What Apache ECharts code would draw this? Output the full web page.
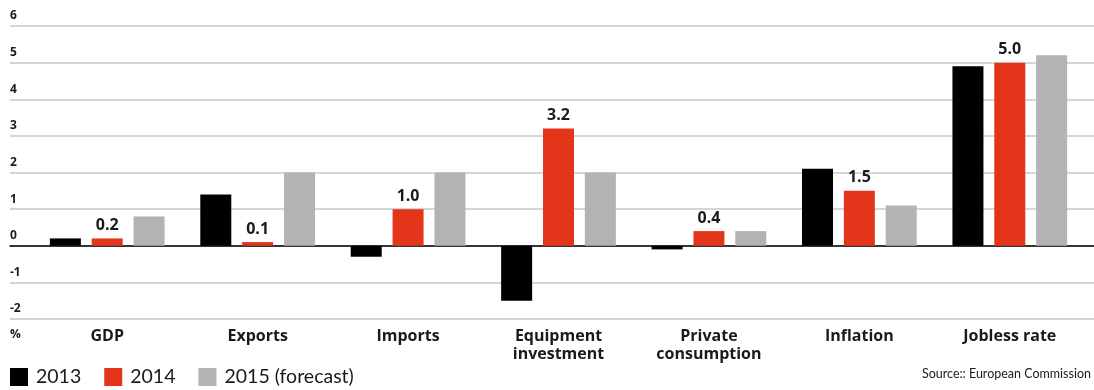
<!DOCTYPE html>
<html>
<head>
<meta charset="utf-8">
<script src="https://cdn.jsdelivr.net/npm/echarts@6/dist/echarts.min.js"></script>
<style>
  html, body { margin: 0; padding: 0; background: #fff; }
  #chart { width: 1094px; height: 390px; }
</style>
</head>
<body>
<div id="chart"></div>
<script>
// Economic indicators, annual % change
const categories = ['GDP', 'Exports', 'Imports', 'Equipment\ninvestment', 'Private\nconsumption', 'Inflation', 'Jobless rate'];
const seriesNames = ['2013', '2014', '2015 (forecast)'];
const values2013 = [0.2, 1.4, -0.3, -1.5, -0.1, 2.1, 4.9];
const values2014 = [0.2, 0.1, 1.0, 3.2, 0.4, 1.5, 5.0];
const values2015 = [0.8, 2.0, 2.0, 2.0, 0.4, 1.1, 5.2];
const yTicks = { min: -2, max: 6, interval: 1 };

const FONT = 'Lato, "Open Sans", sans-serif';
const BOLD_FONT = '"Open Sans", Lato, sans-serif';
const colors = ['#000000', '#e3351a', '#b3b3b4'];

const chart = echarts.init(document.getElementById('chart'), null, { renderer: 'canvas' });

const barBase = {
  type: 'bar',
  xAxisIndex: 1,
  yAxisIndex: 1,
  barWidth: 31,
  barGap: '35%'
};

chart.setOption({
  animation: false,
  textStyle: { fontFamily: FONT },
  grid: [
    { left: 10, right: 0, top: 26, bottom: 71 },
    { left: 32, right: 9, top: 26, bottom: 71 }
  ],
  xAxis: [
    {
      gridIndex: 0, type: 'value', min: 0, max: 1,
      axisLine: { show: true, onZero: true, lineStyle: { color: '#000', width: 1.5 } },
      axisTick: { show: false }, axisLabel: { show: false }, splitLine: { show: false }
    },
    {
      gridIndex: 1, type: 'category', data: categories,
      axisLine: { show: false }, axisTick: { show: false },
      axisLabel: {
        margin: 8, fontFamily: BOLD_FONT, fontWeight: 'bold', fontSize: 16,
        color: '#1a1a1a', lineHeight: 18, interval: 0
      }
    }
  ],
  yAxis: [
    {
      gridIndex: 0, type: 'value', min: yTicks.min, max: yTicks.max, interval: yTicks.interval,
      axisLine: { show: false }, axisTick: { show: false },
      axisLabel: {
        inside: true, margin: 0, align: 'left', verticalAlign: 'bottom',
        padding: [0, 0, 4, 0], fontFamily: BOLD_FONT, fontWeight: 'bold', fontSize: 12, color: '#1a1a1a'
      },
      splitLine: { show: true, lineStyle: { color: '#d6d6d6', width: 2 } }
    },
    {
      gridIndex: 1, type: 'value', min: yTicks.min, max: yTicks.max, interval: yTicks.interval,
      show: false, splitLine: { show: false }
    }
  ],
  legend: {
    left: 5, top: 362,
    icon: 'rect', itemWidth: 18, itemHeight: 18, itemGap: 23,
    textStyle: { fontFamily: FONT, fontSize: 19.5, color: '#1a1a1a', padding: [0, 0, 0, 3] },
    data: seriesNames
  },
  series: [
    Object.assign({}, barBase, { name: seriesNames[0], data: values2013, itemStyle: { color: colors[0] } }),
    Object.assign({}, barBase, {
      name: seriesNames[1], data: values2014, itemStyle: { color: colors[1] },
      label: {
        show: true, position: 'top', distance: 5,
        formatter: p => p.value.toFixed(1),
        fontFamily: BOLD_FONT, fontWeight: 'bold', fontSize: 16, color: '#1a1a1a'
      }
    }),
    Object.assign({}, barBase, { name: seriesNames[2], data: values2015, itemStyle: { color: colors[2] } })
  ],
  graphic: [
    {
      type: 'text', left: 10, top: 329,
      style: { text: '%', font: 'bold 12px ' + BOLD_FONT, fill: '#1a1a1a' }
    },
    {
      type: 'text', right: 3, top: 367,
      style: { text: 'Source:: European Commission', font: '12.5px ' + FONT, fill: '#1a1a1a' }
    }
  ]
});
</script>
</body>
</html>
